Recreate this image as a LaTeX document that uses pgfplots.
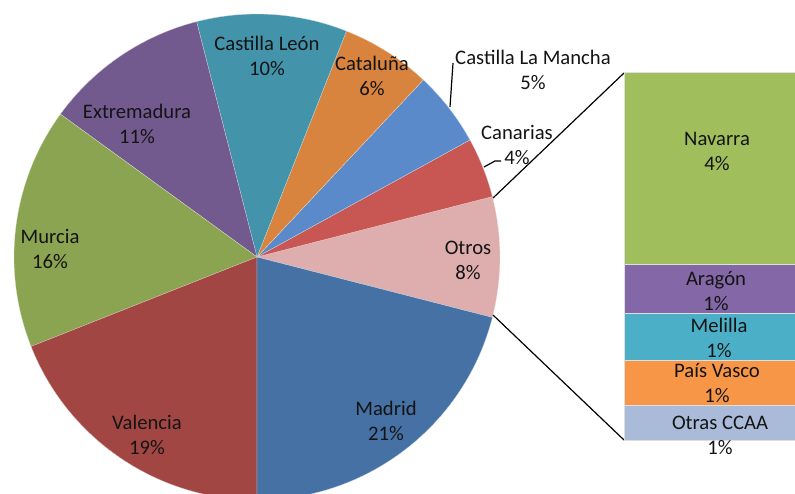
\documentclass[border=0pt]{standalone}
\usepackage{pgfplots}
\pgfplotsset{compat=1.18}
\usepackage{fontspec}
\setmainfont{Carlito}
\definecolor{cMadrid}{HTML}{4671A4}
\definecolor{cValencia}{HTML}{A14643}
\definecolor{cMurcia}{HTML}{8AA451}
\definecolor{cExtrem}{HTML}{735A8E}
\definecolor{cLeon}{HTML}{4394AB}
\definecolor{cCatal}{HTML}{D8843F}
\definecolor{cMancha}{HTML}{5B8ACB}
\definecolor{cCanarias}{HTML}{C85652}
\definecolor{cOtros}{HTML}{DDAEAD}
\definecolor{cNavarra}{HTML}{A0BE5C}
\definecolor{cAragon}{HTML}{8467A6}
\definecolor{cMelilla}{HTML}{4BAFC8}
\definecolor{cVasco}{HTML}{F79646}
\definecolor{cOtrasCCAA}{HTML}{AABBD9}
\def\R{182.25pt}
% pie slice: start percent, end percent (cumulative), colour
\newcommand\slice[3]{\fill[#3, draw=white!70!#3, line width=0.2pt] (axis cs:257,257) -- ++({3.6*(#1)}:\R) arc[start angle={3.6*(#1)}, end angle={3.6*(#2)}, radius=\R] -- cycle;}
\tikzset{lab/.style={align=center, font=\fontsize{15.5}{18.75}\selectfont, text=black!92, inner sep=0pt}}
\begin{document}
\begin{tikzpicture}
\useasboundingbox (0,0) rectangle (596.25pt,369.75pt);
\clip (0,0) rectangle (596.25pt,369.75pt);
\begin{axis}[at={(0,0)}, anchor=south west, scale only axis,
  width=596.25pt, height=369.75pt,
  xmin=0, xmax=795, ymin=0, ymax=493, y dir=reverse,
  hide axis, clip=false]
% percentages: Otros 8, Canarias 4, Castilla La Mancha 5, Catalu~na 6,
% Castilla Leon 10, Extremadura 11, Murcia 16, Valencia 19, Madrid 21
\slice{-4}{4}{cOtros}
\slice{4}{8}{cCanarias}
\slice{8}{13}{cMancha}
\slice{13}{19}{cCatal}
\slice{19}{29}{cLeon}
\slice{29}{40}{cExtrem}
\slice{40}{56}{cMurcia}
\slice{56}{75}{cValencia}
\slice{75}{96}{cMadrid}
\addplot[black, line width=0.9pt] coordinates {(493,198) (624,73)};
\addplot[black, line width=0.9pt] coordinates {(493,315) (624,440)};
\addplot[black, line width=0.9pt] coordinates {(453,63) (450,107)};
\addplot[black, line width=0.9pt] coordinates {(501,161) (495,161) (484,167)};
\node[lab] at (axis cs:267,56) {Castilla León\\10\%};
\node[lab] at (axis cs:372,76) {Cataluña\\6\%};
\node[lab] at (axis cs:533,70) {Castilla La Mancha\\5\%};
\node[lab] at (axis cs:517,145) {Canarias\\4\%};
\node[lab] at (axis cs:468,260) {Otros\\8\%};
\node[lab] at (axis cs:386,421) {Madrid\\21\%};
\node[lab] at (axis cs:147,435) {Valencia\\19\%};
\node[lab] at (axis cs:50,249) {Murcia\\16\%};
\node[lab] at (axis cs:137,124) {Extremadura\\11\%};
\coordinate (B) at (axis cs:624,440);
\end{axis}
\begin{axis}[at={(B)}, anchor=south west, scale only axis,
  width=139.5pt, height=276pt,
  xmin=0, xmax=1, ymin=0, ymax=8,
  hide axis, ybar stacked, bar width=139.5pt, clip=false]
\addplot[fill=cOtrasCCAA, draw=gray!25, line width=0.3pt] coordinates {(0.5,0.76)};
\addplot[fill=cVasco, draw=gray!25, line width=0.3pt] coordinates {(0.5,0.98)};
\addplot[fill=cMelilla, draw=gray!25, line width=0.3pt] coordinates {(0.5,1.02)};
\addplot[fill=cAragon, draw=gray!25, line width=0.3pt] coordinates {(0.5,1.07)};
\addplot[fill=cNavarra, draw=gray!25, line width=0.3pt] coordinates {(0.5,4.17)};
\end{axis}
% labels on the bar drawn above the bar fills
\begin{axis}[at={(0,0)}, anchor=south west, scale only axis,
  width=596.25pt, height=369.75pt,
  xmin=0, xmax=795, ymin=0, ymax=493, y dir=reverse,
  hide axis, clip=false]
\node[lab] at (axis cs:717,151) {Navarra\\4\%};
\node[lab] at (axis cs:716,291) {Aragón\\1\%};
\node[lab] at (axis cs:719,338) {Melilla\\1\%};
\node[lab] at (axis cs:717,383) {País Vasco\\1\%};
\node[lab] at (axis cs:720,435) {Otras CCAA\\1\%};
\end{axis}
\end{tikzpicture}
\end{document}
